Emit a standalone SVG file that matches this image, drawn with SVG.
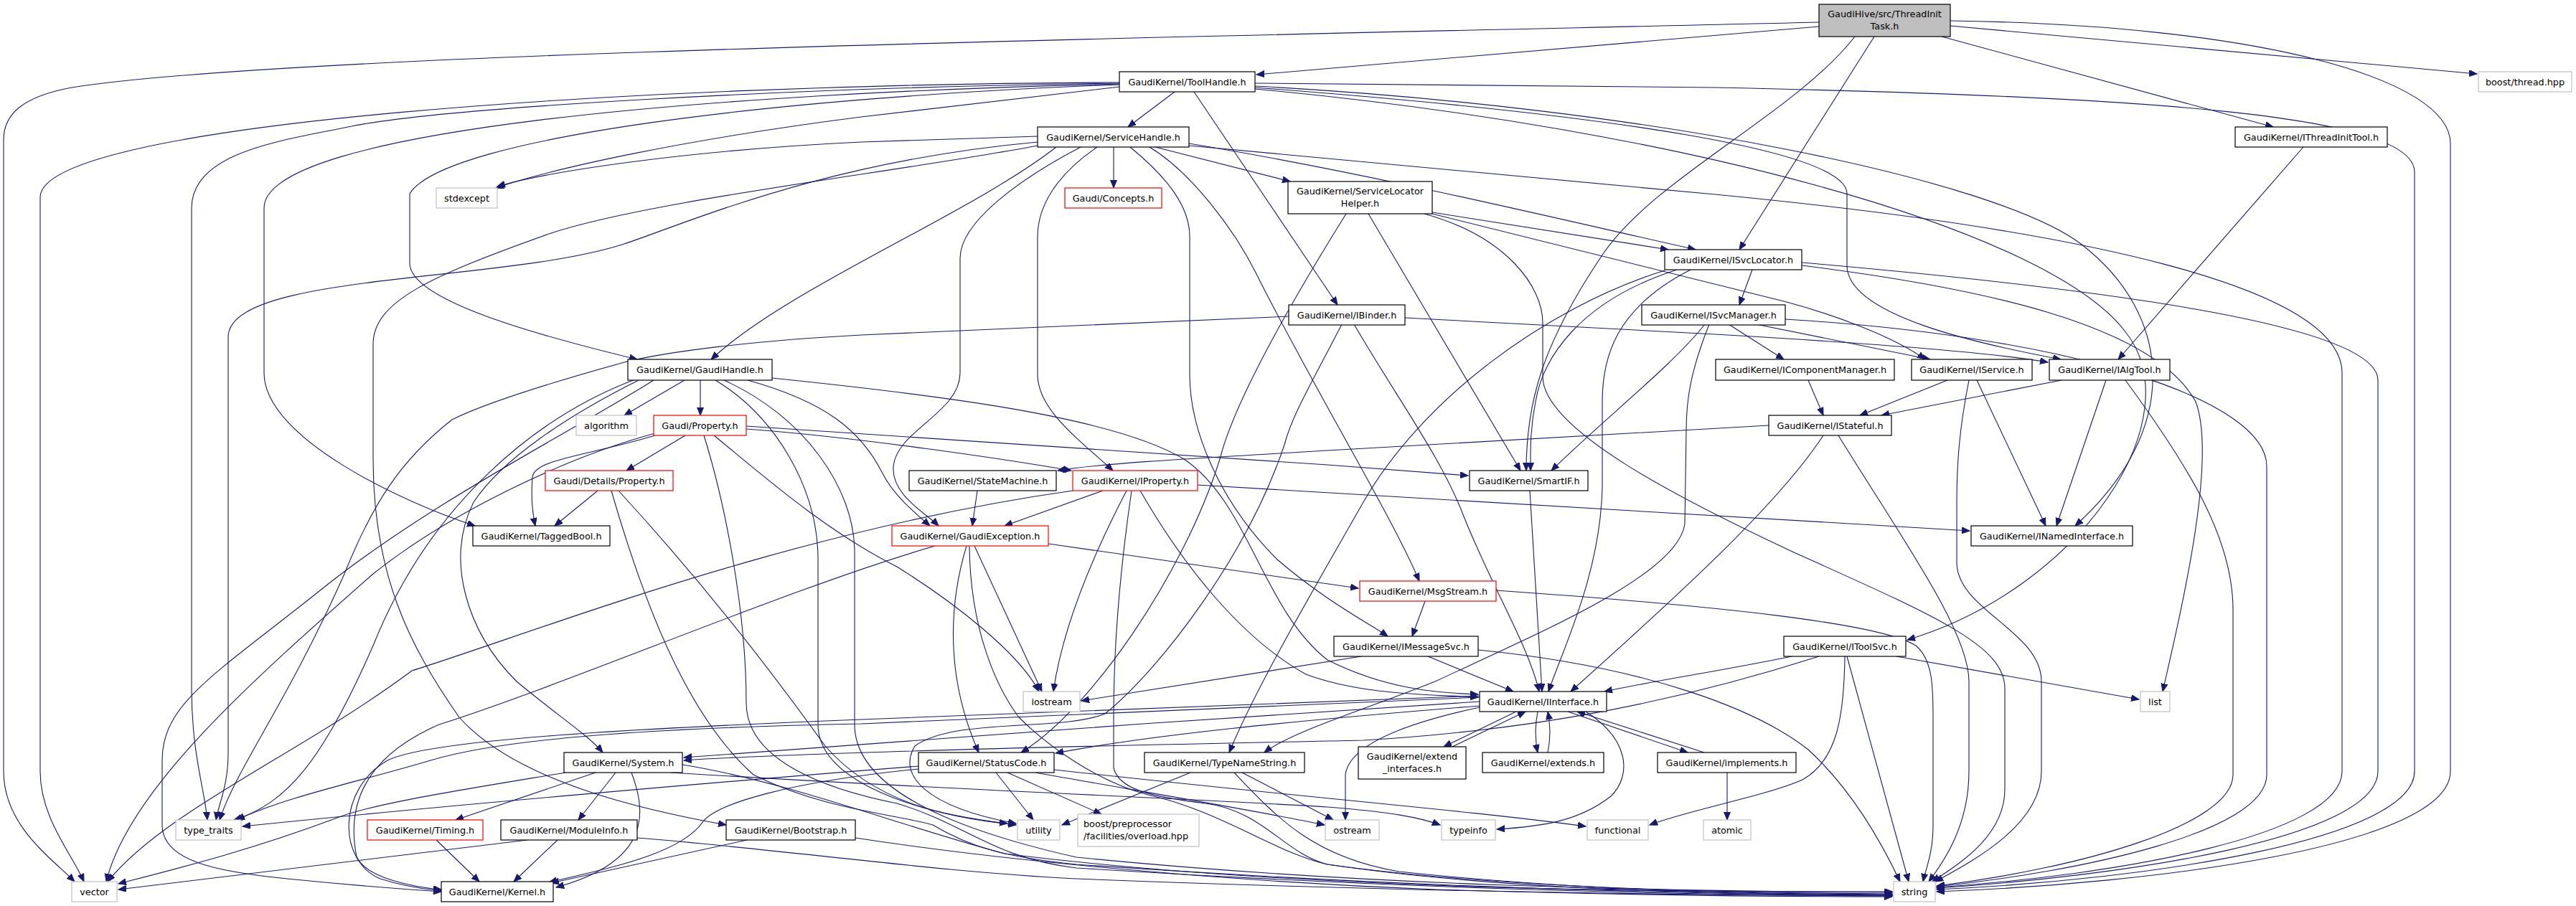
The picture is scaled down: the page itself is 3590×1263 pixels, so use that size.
<svg xmlns="http://www.w3.org/2000/svg" width="3590" height="1263" viewBox="0 0 3590 1263">
<style>
.e path{fill:none;stroke:#191970;stroke-width:1.1;marker-end:url(#a)}
.n rect{fill:#fff;stroke:#000;stroke-width:1.2}
.g rect{stroke:#c0c0c0}
.r rect{stroke:#ff0000}
.root rect{fill:#bfbfbf}
text{font-family:"DejaVu Sans","Liberation Sans",sans-serif;font-size:12.8px;fill:#000;text-anchor:middle}
.l text{text-anchor:start}
</style>
<defs>
<marker id="a" markerWidth="12" markerHeight="10" refX="11" refY="4.5" orient="auto" markerUnits="userSpaceOnUse"><path d="M0,0 L11,4.5 L0,9 z" fill="#191970" stroke="#191970" stroke-width="1"/></marker>
</defs>
<rect width="3590" height="1263" fill="#fff"/>
<g id="edges" class="e">
<path d="M2535,37 L1751,104"/>
<path d="M2535,31 C1500,55 400,75 100,122 C30,135 5,160 5,195 L5,1075 C5,1150 70,1195 104,1229"/>
<path d="M2718,29 C3150,35 3415,110 3415,200 L3415,1075 C3415,1180 3000,1232 2699,1243"/>
<path d="M2718,36 L3452,103"/>
<path d="M2706,51 L3168,177"/>
<path d="M2612,51 L2424,348"/>
<path d="M2585,51 C2500,160 2300,250 2230,360 C2150,480 2127,560 2127,656"/>
<path d="M1637,128 L1572,177"/>
<path d="M1664,128 L1864,425"/>
<path d="M1560,118 C1100,135 620,190 571,270 L571,367 C571,420 760,470 888,501"/>
<path d="M1560,121 L1200,163 C950,195 770,235 691,262"/>
<path d="M1560,117 C1000,130 368,180 368,290 L368,520 C368,610 560,700 662,733"/>
<path d="M1560,116 C1100,122 620,150 490,176 C400,195 267,210 267,290 L267,960 C267,1050 285,1100 289,1143"/>
<path d="M1560,115 C900,117 56,170 56,275 L56,1075 C56,1140 100,1190 117,1229"/>
<path d="M1749,116 L2390,122 C3000,135 3365,160 3365,240 L3365,1075 C3365,1170 3000,1226 2699,1240"/>
<path d="M1749,122 C2250,160 2574,210 2574,270 L2574,370 C2574,440 2760,480 2872,501"/>
<path d="M1749,120 C2300,150 2780,250 2900,340 C3030,440 3040,600 2892,733"/>
<path d="M1749,124 C2350,180 2850,320 2960,460 C3060,580 2900,820 2658,892"/>
<path d="M1552,205 L1552,262"/>
<path d="M1610,205 L1798,253"/>
<path d="M1657,200 C1900,240 2150,300 2363,348"/>
<path d="M1657,203 L2390,271 C2900,320 3264,400 3264,520 L3264,1075 C3264,1165 2950,1220 2699,1237"/>
<path d="M1472,205 C1350,300 1100,400 991,501"/>
<path d="M1446,190 L1200,198 C950,210 760,240 693,260"/>
<path d="M1446,198 C1150,225 960,310 870,340 C700,395 318,380 318,470 L318,1050 C318,1095 305,1120 301,1143"/>
<path d="M1446,203 C1250,240 900,280 765,326 C600,385 520,420 520,480 L520,640 C520,800 570,900 640,1000 C720,1090 900,1130 1012,1150"/>
<path d="M1506,205 C1420,250 1338,310 1338,360 L1338,520 C1338,575 1250,600 1245,650 C1242,690 1290,715 1308,733"/>
<path d="M1529,205 C1470,245 1446,290 1446,330 L1446,522 C1446,570 1500,610 1551,656"/>
<path d="M1575,205 C1630,250 1658,290 1658,330 L1658,522 C1658,600 1700,700 1780,780 C1850,840 1910,870 1934,887"/>
<path d="M1602,205 C1660,240 1720,320 1750,380 C1830,540 1940,720 1978,810"/>
<path d="M1996,296 L2325,348"/>
<path d="M1996,298 L2490,421 C2560,440 2640,470 2683,501"/>
<path d="M1907,298 L2119,656"/>
<path d="M1985,298 C2100,330 2150,400 2150,450 L2150,525 C2150,600 2350,700 2500,770 C2700,860 2794,900 2794,960 L2794,1100 C2794,1170 2720,1210 2693,1229"/>
<path d="M1876,298 C1800,420 1720,560 1700,640 C1650,800 1520,990 1423,1049"/>
<path d="M3210,205 L2952,501"/>
<path d="M2442,376 L2424,425"/>
<path d="M2337,376 C2200,420 2150,500 2140,560 C2132,600 2133,630 2133,656"/>
<path d="M2320,377 C2150,430 1980,560 1900,700 C1820,840 1750,960 1713,1049"/>
<path d="M2356,376 C2250,430 2233,500 2233,560 L2233,680 C2230,800 2180,900 2158,964"/>
<path d="M2511,370 C2750,400 3000,450 3060,560 C3090,640 3040,850 3014,964"/>
<path d="M2511,366 C2900,400 3314,450 3314,530 L3314,1075 C3314,1170 2950,1222 2699,1238"/>
<path d="M1958,443 L2390,466 C2600,478 2780,492 2854,505"/>
<path d="M1887,452 C1950,560 2010,640 2040,720 C2080,820 2130,900 2145,964"/>
<path d="M1870,452 C1830,530 1800,580 1790,620 C1740,770 1620,930 1540,995 C1480,1020 1330,1000 1275,1040 C1250,1080 1290,1125 1416,1148"/>
<path d="M1796,441 L1200,467 C1050,475 930,490 870,505 C780,530 680,560 630,585 C560,640 520,700 480,800 C400,980 330,1070 306,1143"/>
<path d="M2409,452 L2486,501"/>
<path d="M2447,452 L2690,501"/>
<path d="M2376,452 C2330,510 2240,580 2162,656"/>
<path d="M2382,452 C2355,520 2350,560 2350,600 L2348,730 C2340,800 2150,880 2000,950 C1900,990 1800,1020 1762,1049"/>
<path d="M2488,445 C2900,470 3159,560 3159,650 L3159,1080 C3159,1160 2900,1215 2699,1236"/>
<path d="M2520,530 L2541,579"/>
<path d="M2714,530 L2592,579"/>
<path d="M2755,530 L2851,733"/>
<path d="M2744,530 C2730,600 2727,650 2727,700 L2727,784 C2727,850 2845,880 2845,950 L2845,1075 C2845,1150 2750,1200 2697,1229"/>
<path d="M2873,530 L2622,579"/>
<path d="M2935,530 L2866,733"/>
<path d="M2962,530 C3050,650 3112,750 3112,850 L3112,1080 C3112,1150 2900,1210 2699,1235"/>
<path d="M2465,593 L1850,628 C1700,637 1540,645 1474,656"/>
<path d="M2541,607 C2480,700 2350,820 2189,964"/>
<path d="M2562,607 C2650,750 2744,880 2744,950 L2744,1075 C2744,1150 2710,1200 2688,1229"/>
<path d="M1362,684 L1355,733"/>
<path d="M1537,684 L1400,733"/>
<path d="M1570,684 C1520,780 1480,880 1468,964"/>
<path d="M1669,676 C2200,705 2500,725 2745,740"/>
<path d="M1589,684 C1650,790 1730,890 1820,940 C1900,970 2000,968 2060,972"/>
<path d="M1495,684 C1100,740 750,880 574,935 C420,1050 230,1130 150,1229"/>
<path d="M1577,684 C1560,800 1552,900 1552,1000 L1552,1071 C1560,1100 1600,1110 1680,1120 C1760,1130 1790,1190 1850,1205 C2100,1240 2450,1245 2637,1246"/>
<path d="M2132,684 L2149,964"/>
<path d="M1461,758 L1893,820"/>
<path d="M1347,761 C1320,850 1320,950 1364,1049"/>
<path d="M1358,761 L1452,964"/>
<path d="M1303,761 C1100,820 800,950 612,1010 C520,1050 480,1110 497,1194 C510,1225 580,1237 615,1240"/>
<path d="M1351,761 C1352,880 1390,960 1420,1000 C1460,1040 1530,1090 1600,1108 C1700,1130 1780,1190 1850,1205 C2100,1242 2400,1246 2637,1248"/>
<path d="M1986,838 L1968,887"/>
<path d="M2085,823 C2400,845 2620,869 2670,900 C2694,920 2694,960 2694,1000 L2694,1150 C2694,1190 2684,1210 2680,1229"/>
<path d="M1990,915 L2109,964"/>
<path d="M1897,915 L1507,977"/>
<path d="M2060,906 C2300,930 2450,990 2520,1045 C2580,1100 2620,1170 2648,1229"/>
<path d="M2497,915 C2400,935 2300,950 2236,964"/>
<path d="M2535,915 C2300,990 2100,1020 1900,1032 C1500,1040 1100,1050 953,1060"/>
<path d="M2571,915 C2570,1000 2560,1060 2512,1087 C2460,1110 2350,1130 2299,1150"/>
<path d="M2574,915 L2660,1229"/>
<path d="M2643,915 L2981,975"/>
<path d="M2113,992 L2012,1041"/>
<path d="M2024,1041 L2126,992"/>
<path d="M2143,992 C2139,1012 2139,1030 2143,1049"/>
<path d="M2157,1049 C2161,1030 2161,1012 2157,992"/>
<path d="M2185,992 L2352,1049"/>
<path d="M2375,1049 L2198,992"/>
<path d="M2210,992 C2270,1030 2275,1080 2245,1110 C2200,1145 2150,1152 2086,1156"/>
<path d="M2062,986 C1950,1010 1880,1040 1875,1080 L1875,1143"/>
<path d="M2062,978 C1700,1000 1300,1030 953,1056"/>
<path d="M2062,984 C1800,1005 1600,1025 1471,1050"/>
<path d="M2062,970 L1200,1003 C900,1015 600,1030 540,1060 C470,1100 470,1200 530,1225 C570,1238 600,1240 615,1242"/>
<path d="M2062,972 L1200,1009 C900,1015 700,1030 600,1060 C500,1090 400,1110 330,1143"/>
<path d="M830,1077 L635,1143"/>
<path d="M858,1077 L806,1143"/>
<path d="M880,1077 C900,1130 910,1200 775,1237"/>
<path d="M788,1077 C650,1100 520,1120 470,1140 C350,1185 250,1210 165,1232"/>
<path d="M951,1066 C1100,1090 1250,1150 1400,1190 C1800,1240 2300,1244 2637,1243"/>
<path d="M935,1077 C1300,1100 1700,1115 1850,1125 C1940,1132 1980,1140 2007,1150"/>
<path d="M1280,1072 C1100,1090 1000,1120 980,1145 C950,1190 850,1210 765,1230"/>
<path d="M1388,1077 L1440,1143"/>
<path d="M1404,1077 L1535,1135"/>
<path d="M1443,1077 C1600,1105 1750,1130 1846,1150"/>
<path d="M1469,1073 C1800,1110 2050,1130 2210,1152"/>
<path d="M1280,1068 C1000,1090 600,1125 338,1152"/>
<path d="M1659,1077 L1480,1150"/>
<path d="M1731,1077 L1858,1143"/>
<path d="M1720,1077 C1780,1140 1830,1195 1950,1215 C2200,1242 2450,1246 2637,1247"/>
<path d="M2407,1077 L2407,1143"/>
<path d="M608,1171 L668,1229"/>
<path d="M777,1171 L716,1229"/>
<path d="M735,1171 C500,1200 300,1225 165,1240"/>
<path d="M888,1168 C1100,1185 1300,1215 1500,1225 C2000,1245 2400,1248 2637,1249"/>
<path d="M1041,1171 L768,1231"/>
<path d="M1192,1168 C1400,1200 1700,1228 2000,1240 C2300,1249 2500,1250 2637,1250"/>
<path d="M833,684 L773,733"/>
<path d="M852,684 C900,850 960,1000 1050,1080 C1150,1130 1250,1135 1300,1150 C1350,1180 1400,1195 1500,1205 C2000,1240 2400,1247 2637,1248"/>
<path d="M862,684 C950,780 1050,900 1150,1040 C1220,1120 1320,1140 1416,1150"/>
<path d="M955,607 L873,656"/>
<path d="M913,607 C820,635 745,640 742,665 C740,690 742,715 746,733"/>
<path d="M913,604 C780,640 620,720 520,800 C350,950 180,1100 148,1229"/>
<path d="M1040,598 C1200,610 1400,640 1493,656"/>
<path d="M1040,594 L1850,648 L2046,663"/>
<path d="M995,607 C1060,660 1150,740 1250,790 C1330,840 1420,910 1448,964"/>
<path d="M981,607 C1010,700 1040,850 1040,980 C1040,1060 1150,1100 1250,1120 C1350,1150 1380,1195 1500,1210 C2000,1242 2400,1248 2637,1249"/>
<path d="M954,530 L870,579"/>
<path d="M976,530 L976,579"/>
<path d="M1042,530 C1150,560 1200,600 1230,660 C1245,690 1275,715 1296,733"/>
<path d="M1076,527 C1300,550 1550,580 1650,640 C1740,700 1760,850 1850,920 C1930,960 2000,966 2060,968"/>
<path d="M890,530 C790,580 700,640 660,700 C620,780 650,880 720,950 C780,1000 820,1025 840,1049"/>
<path d="M885,529 C750,580 600,700 520,900 C450,1060 400,1120 326,1143"/>
<path d="M911,530 C800,600 600,700 450,820 C300,940 226,980 226,1060 L226,1150 C226,1200 300,1215 400,1225 C500,1235 570,1240 615,1243"/>
<path d="M997,530 C1080,580 1140,680 1140,780 L1140,1010 C1140,1080 1250,1130 1404,1148"/>
<path d="M1009,530 C1120,580 1191,680 1191,770 L1191,1010 C1191,1090 1300,1150 1500,1195 C1900,1235 2300,1242 2637,1244"/>
</g>
<g id="n0" class="n root"><rect x="2535" y="6" width="183" height="45"/><text x="2626.5" y="24">GaudiHive/src/ThreadInit</text><text x="2626.5" y="41">Task.h</text></g>
<g id="n1" class="n"><rect x="1560" y="100" width="189" height="28"/><text x="1654.5" y="118.5">GaudiKernel/ToolHandle.h</text></g>
<g id="n7" class="n g"><rect x="3454" y="100" width="130" height="28"/><text x="3519" y="118.5">boost/thread.hpp</text></g>
<g id="n2" class="n"><rect x="1446" y="177" width="211" height="28"/><text x="1551.5" y="195.5">GaudiKernel/ServiceHandle.h</text></g>
<g id="n6" class="n"><rect x="3115" y="177" width="212" height="28"/><text x="3221" y="195.5">GaudiKernel/IThreadInitTool.h</text></g>
<g id="n3" class="n g"><rect x="608" y="262" width="85" height="28"/><text x="650.5" y="280.5">stdexcept</text></g>
<g id="n4" class="n r"><rect x="1484" y="262" width="135" height="28"/><text x="1551.5" y="280.5">Gaudi/Concepts.h</text></g>
<g id="n5" class="n"><rect x="1795" y="253" width="201" height="45"/><text x="1895.5" y="271">GaudiKernel/ServiceLocator</text><text x="1895.5" y="288">Helper.h</text></g>
<g id="n8" class="n"><rect x="2320" y="348" width="191" height="28"/><text x="2415.5" y="366.5">GaudiKernel/ISvcLocator.h</text></g>
<g id="n9" class="n"><rect x="1796" y="425" width="162" height="28"/><text x="1877" y="443.5">GaudiKernel/IBinder.h</text></g>
<g id="n10" class="n"><rect x="2288" y="425" width="200" height="28"/><text x="2388" y="443.5">GaudiKernel/ISvcManager.h</text></g>
<g id="n11" class="n"><rect x="875" y="501" width="201" height="29"/><text x="975.5" y="520">GaudiKernel/GaudiHandle.h</text></g>
<g id="n12" class="n"><rect x="2391" y="501" width="249" height="29"/><text x="2515.5" y="520">GaudiKernel/IComponentManager.h</text></g>
<g id="n13" class="n"><rect x="2664" y="501" width="168" height="29"/><text x="2748" y="520">GaudiKernel/IService.h</text></g>
<g id="n14" class="n"><rect x="2856" y="501" width="168" height="29"/><text x="2940" y="520">GaudiKernel/IAlgTool.h</text></g>
<g id="n15" class="n g"><rect x="803" y="579" width="84" height="28"/><text x="845" y="597.5">algorithm</text></g>
<g id="n16" class="n r"><rect x="911" y="579" width="129" height="28"/><text x="975.5" y="597.5">Gaudi/Property.h</text></g>
<g id="n17" class="n"><rect x="2465" y="579" width="171" height="28"/><text x="2550.5" y="597.5">GaudiKernel/IStateful.h</text></g>
<g id="n18" class="n r"><rect x="760" y="656" width="178" height="28"/><text x="849" y="674.5">Gaudi/Details/Property.h</text></g>
<g id="n19" class="n"><rect x="1267" y="656" width="205" height="28"/><text x="1369.5" y="674.5">GaudiKernel/StateMachine.h</text></g>
<g id="n20" class="n r"><rect x="1495" y="656" width="174" height="28"/><text x="1582" y="674.5">GaudiKernel/IProperty.h</text></g>
<g id="n21" class="n"><rect x="2048" y="656" width="165" height="28"/><text x="2130.5" y="674.5">GaudiKernel/SmartIF.h</text></g>
<g id="n22" class="n"><rect x="659" y="733" width="191" height="28"/><text x="754.5" y="751.5">GaudiKernel/TaggedBool.h</text></g>
<g id="n23" class="n r"><rect x="1243" y="733" width="218" height="28"/><text x="1352" y="751.5">GaudiKernel/GaudiException.h</text></g>
<g id="n24" class="n"><rect x="2747" y="733" width="225" height="28"/><text x="2859.5" y="751.5">GaudiKernel/INamedInterface.h</text></g>
<g id="n25" class="n r"><rect x="1895" y="810" width="190" height="28"/><text x="1990" y="828.5">GaudiKernel/MsgStream.h</text></g>
<g id="n26" class="n"><rect x="1859" y="887" width="201" height="28"/><text x="1959.5" y="905.5">GaudiKernel/IMessageSvc.h</text></g>
<g id="n27" class="n"><rect x="2486" y="887" width="170" height="28"/><text x="2571" y="905.5">GaudiKernel/IToolSvc.h</text></g>
<g id="n28" class="n g"><rect x="1426" y="964" width="79" height="28"/><text x="1465.5" y="982.5">iostream</text></g>
<g id="n29" class="n"><rect x="2062" y="964" width="177" height="28"/><text x="2150.5" y="982.5">GaudiKernel/IInterface.h</text></g>
<g id="n30" class="n g"><rect x="2983" y="964" width="41" height="28"/><text x="3003.5" y="982.5">list</text></g>
<g id="n31" class="n"><rect x="786" y="1049" width="165" height="28"/><text x="868.5" y="1067.5">GaudiKernel/System.h</text></g>
<g id="n32" class="n"><rect x="1280" y="1049" width="189" height="28"/><text x="1374.5" y="1067.5">GaudiKernel/StatusCode.h</text></g>
<g id="n33" class="n"><rect x="1595" y="1049" width="223" height="28"/><text x="1706.5" y="1067.5">GaudiKernel/TypeNameString.h</text></g>
<g id="n34" class="n"><rect x="1893" y="1041" width="150" height="45"/><text x="1968" y="1059">GaudiKernel/extend</text><text x="1968" y="1076">_interfaces.h</text></g>
<g id="n35" class="n"><rect x="2066" y="1049" width="169" height="28"/><text x="2150.5" y="1067.5">GaudiKernel/extends.h</text></g>
<g id="n36" class="n"><rect x="2310" y="1049" width="193" height="28"/><text x="2406.5" y="1067.5">GaudiKernel/implements.h</text></g>
<g id="n37" class="n g"><rect x="245" y="1143" width="91" height="28"/><text x="290.5" y="1161.5">type_traits</text></g>
<g id="n38" class="n r"><rect x="512" y="1143" width="161" height="28"/><text x="592.5" y="1161.5">GaudiKernel/Timing.h</text></g>
<g id="n39" class="n"><rect x="698" y="1143" width="190" height="28"/><text x="793" y="1161.5">GaudiKernel/ModuleInfo.h</text></g>
<g id="n40" class="n"><rect x="1012" y="1143" width="180" height="28"/><text x="1102" y="1161.5">GaudiKernel/Bootstrap.h</text></g>
<g id="n41" class="n g"><rect x="1418" y="1143" width="59" height="28"/><text x="1447.5" y="1161.5">utility</text></g>
<g id="n42" class="n g l"><rect x="1502" y="1135" width="169" height="45"/><text x="1510" y="1153">boost/preprocessor</text><text x="1510" y="1170">/facilities/overload.hpp</text></g>
<g id="n43" class="n g"><rect x="1847" y="1143" width="75" height="28"/><text x="1884.5" y="1161.5">ostream</text></g>
<g id="n44" class="n g"><rect x="2009" y="1143" width="75" height="28"/><text x="2046.5" y="1161.5">typeinfo</text></g>
<g id="n45" class="n g"><rect x="2212" y="1143" width="85" height="28"/><text x="2254.5" y="1161.5">functional</text></g>
<g id="n46" class="n g"><rect x="2374" y="1143" width="66" height="28"/><text x="2407" y="1161.5">atomic</text></g>
<g id="n47" class="n g"><rect x="100" y="1229" width="63" height="28"/><text x="131.5" y="1247.5">vector</text></g>
<g id="n48" class="n"><rect x="615" y="1229" width="156" height="28"/><text x="693" y="1247.5">GaudiKernel/Kernel.h</text></g>
<g id="n49" class="n g"><rect x="2639" y="1229" width="58" height="28"/><text x="2668" y="1247.5">string</text></g>
</svg>
